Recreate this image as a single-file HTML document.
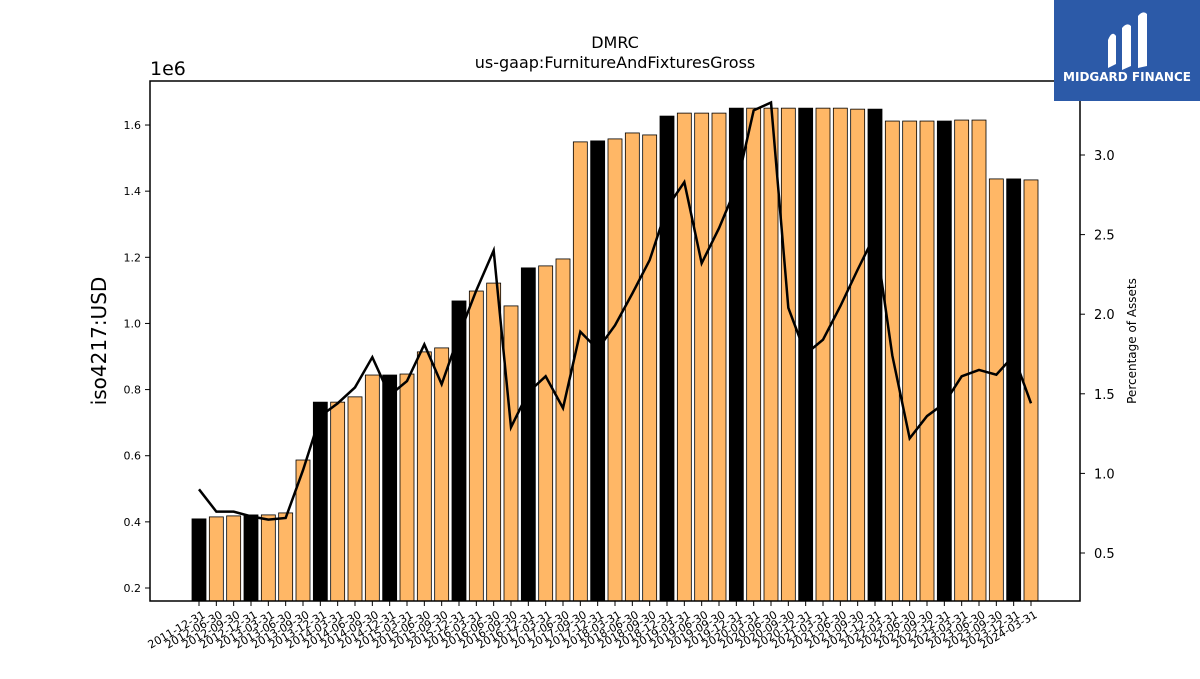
<!DOCTYPE html>
<html><head><meta charset="utf-8"><style>
body{margin:0;background:#fff;font-family:"DejaVu Sans","Liberation Sans",sans-serif}
svg text{font-family:"DejaVu Sans","Liberation Sans",sans-serif}
</style></head><body>
<svg id="c" width="1200" height="675" xmlns="http://www.w3.org/2000/svg">
<rect width="1200" height="675" fill="#fff"/>
<text x="615" y="48" font-size="16" text-anchor="middle">DMRC</text>
<text x="615" y="68" font-size="16" text-anchor="middle">us-gaap:FurnitureAndFixturesGross</text>
<text x="150" y="75" font-size="19">1e6</text>
<text transform="translate(106,341) rotate(-90)" font-size="20" text-anchor="middle">iso4217:USD</text>
<text transform="translate(1136,341) rotate(-90)" font-size="12" text-anchor="middle">Percentage of Assets</text>
<g id="bars"></g><g id="line"></g><g id="axes"></g>
<rect x="150" y="81" width="930" height="520" fill="none" stroke="#000" stroke-width="1.5"/>
<g>
<rect x="1054" y="0" width="146" height="101" fill="#2c5aa8"/>
<path d="M1108 68 L1108 40 Q1112 30 1116 36 L1116 64 Z M1122 70 L1122 28 Q1127 22 1131 26 L1131 66 Z M1138 68 L1138 16 Q1143 10 1147 14 L1147 66 Z" fill="#fff"/>
<text x="1127" y="81" font-size="12" font-weight="bold" fill="#fff" text-anchor="middle">MIDGARD FINANCE</text>
</g>
</svg>
<script>
const categories=["2011-12-31","2012-06-30","2012-09-30","2012-12-31","2013-03-31","2013-06-30","2013-09-30","2013-12-31","2014-03-31","2014-06-30","2014-09-30","2014-12-31","2015-03-31","2015-06-30","2015-09-30","2015-12-31","2016-03-31","2016-06-30","2016-09-30","2016-12-31","2017-03-31","2017-06-30","2017-09-30","2017-12-31","2018-03-31","2018-06-30","2018-09-30","2018-12-31","2019-03-31","2019-06-30","2019-09-30","2019-12-31","2020-03-31","2020-06-30","2020-09-30","2020-12-31","2021-03-31","2021-06-30","2021-09-30","2021-12-31","2022-03-31","2022-06-30","2022-09-30","2022-12-31","2023-03-31","2023-06-30","2023-09-30","2023-12-31","2024-03-31"];
const values=[0.409,0.415,0.418,0.421,0.421,0.427,0.587,0.762,0.762,0.778,0.844,0.844,0.847,0.914,0.926,1.068,1.098,1.122,1.053,1.168,1.174,1.195,1.549,1.552,1.558,1.576,1.570,1.627,1.636,1.636,1.636,1.651,1.651,1.651,1.651,1.651,1.651,1.651,1.648,1.648,1.612,1.612,1.612,1.612,1.615,1.615,1.437,1.437,1.434];
const pct=[0.90,0.76,0.76,0.73,0.71,0.72,1.02,1.36,1.44,1.54,1.73,1.49,1.58,1.81,1.56,1.87,2.15,2.40,1.29,1.51,1.61,1.41,1.89,1.78,1.93,2.13,2.34,2.67,2.83,2.32,2.54,2.80,3.28,3.33,2.04,1.75,1.84,2.05,2.28,2.50,1.74,1.22,1.36,1.44,1.61,1.65,1.62,1.74,1.44];
const leftTicks=[0.2,0.4,0.6,0.8,1.0,1.2,1.4,1.6];
const rightTicks=[0.5,1.0,1.5,2.0,2.5,3.0];
const NS="http://www.w3.org/2000/svg";
const x=i=>199+i*(1031-199)/48;
const y=v=>588-(v-0.2)/0.2*66.14;
const y2=p=>553-(p-0.5)/0.5*79.6;
function mk(t,a,p){const e=document.createElementNS(NS,t);for(const k in a)e.setAttribute(k,a[k]);p.appendChild(e);return e;}
const bars=document.getElementById('bars'),line=document.getElementById('line'),axes=document.getElementById('axes');
values.forEach((v,i)=>{const b=mk('rect',{x:x(i)-7,y:y(v),width:14,height:601-y(v),fill:categories[i].endsWith('12-31')?'#000':'#ffb766',stroke:'#000','stroke-width':0.8},bars);


const t=mk('line',{x1:x(i),x2:x(i),y1:601,y2:606,stroke:'#000'},axes);


const l=mk('text',{transform:`translate(${x(i)+3},610) rotate(-30)`,'font-size':11,'text-anchor':'end','dominant-baseline':'hanging'},axes);
l.textContent=categories[i];

});
const pl=mk('polyline',{points:pct.map((p,i)=>x(i)+','+y2(p)).join(' '),fill:'none',stroke:'#000','stroke-width':2.5},line);


leftTicks.forEach(v=>{const t=mk('line',{x1:145,x2:150,y1:y(v),y2:y(v),stroke:'#000'},axes);


const l=mk('text',{x:141,y:y(v)+4,'font-size':11,'text-anchor':'end'},axes);l.textContent=v.toFixed(1);

});
rightTicks.forEach(p=>{const t=mk('line',{x1:1080,x2:1085,y1:y2(p),y2:y2(p),stroke:'#000'},axes);


const l=mk('text',{x:1094,y:y2(p)+5,'font-size':13},axes);l.textContent=p.toFixed(1);

});
</script>
</body></html>
